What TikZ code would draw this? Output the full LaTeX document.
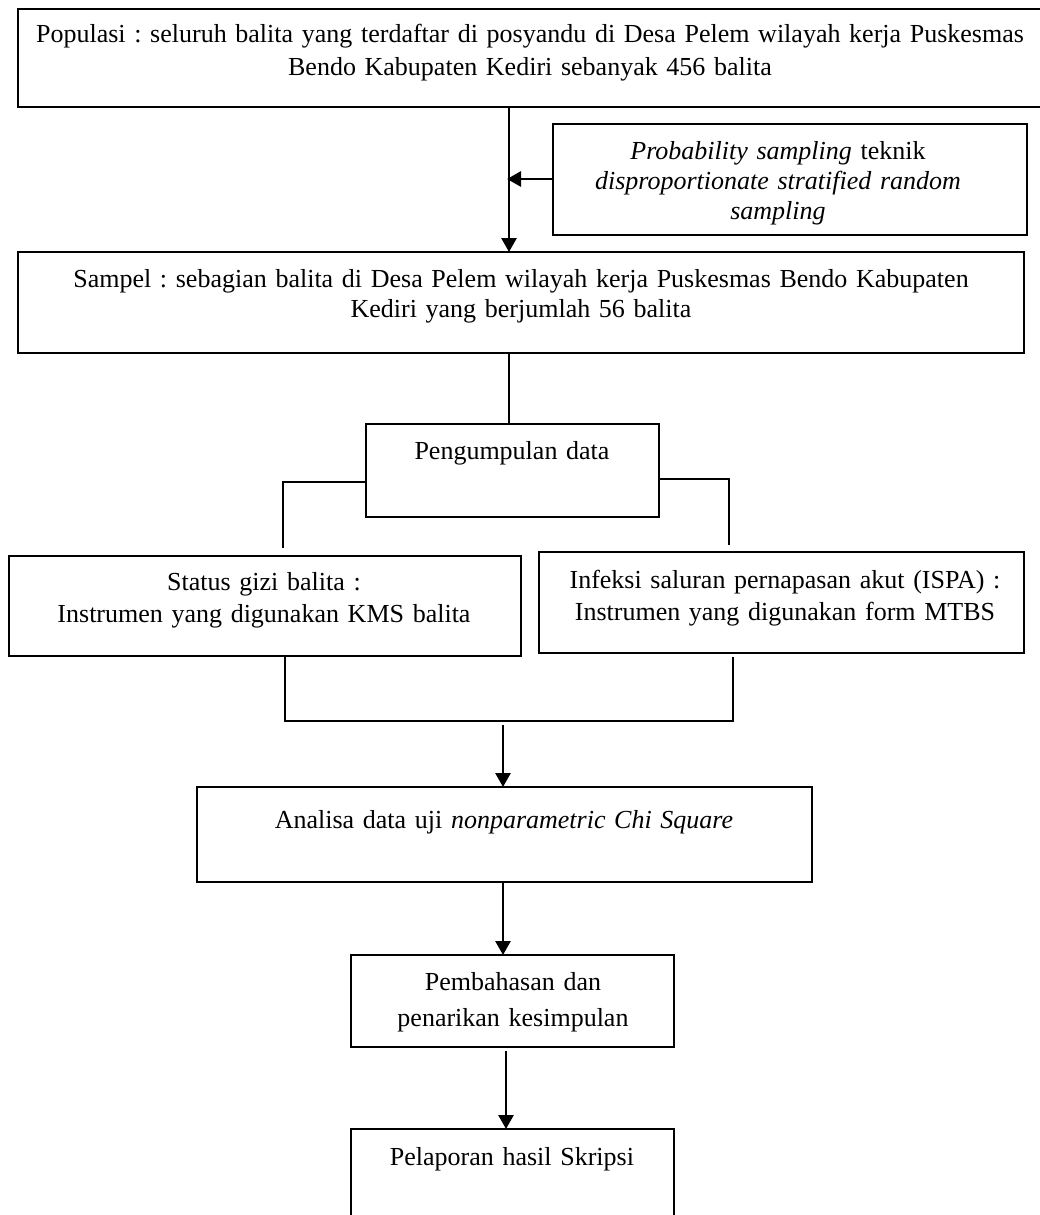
\documentclass[tikz,border=0pt]{standalone}
\usepackage{fontspec}
\setmainfont{Liberation Serif}
\usetikzlibrary{arrows.meta}
\frenchspacing
\begin{document}
\begin{tikzpicture}[x=1pt,y=-1pt,
  box/.style={draw, line width=2pt, inner sep=0pt, outer sep=0pt, anchor=north west},
  txt/.style={inner sep=0pt, outer sep=0pt, anchor=base, align=center, text width=1200pt, font=\frenchspacing\fontsize{26}{#1}\selectfont},
  txt/.default=33,
  conn/.style={line width=2pt},
  arr/.style={line width=2.8pt, -{Triangle[length=14pt,width=15pt]}}]
\useasboundingbox (0,0) rectangle (1040,1215);
\clip (0,0) rectangle (1040,1215);
% boxes
\node[box, minimum width=1030pt, minimum height=98pt] (b1) at (18,9) {};
\node[box, minimum width=474pt, minimum height=111pt] (prob) at (553,124) {};
\node[box, minimum width=1006pt, minimum height=101pt] (samp) at (18,252) {};
\node[box, minimum width=293pt, minimum height=93pt] (peng) at (366,424) {};
\node[box, minimum width=512pt, minimum height=100pt] (stat) at (9,556) {};
\node[box, minimum width=485pt, minimum height=101pt] (inf) at (539,552) {};
\node[box, minimum width=615pt, minimum height=95pt] (ana) at (197,787) {};
\node[box, minimum width=323pt, minimum height=92pt] (pem) at (351,955) {};
\node[box, minimum width=323pt, minimum height=110pt] (pel) at (351,1129) {};
% texts
\node[txt=33] (t1) at (530,43) {Populasi : seluruh balita yang terdaftar di posyandu di Desa Pelem wilayah kerja Puskesmas\\Bendo Kabupaten Kediri sebanyak 456 balita};
\node[txt=30] (tprob) at (778,159) {\textit{Probability sampling} teknik\\\textit{disproportionate stratified random}\\\textit{sampling}};
\node[txt=30] (tsamp) at (521,287) {Sampel : sebagian balita di Desa Pelem wilayah kerja Puskesmas Bendo Kabupaten\\Kediri yang berjumlah 56 balita};
\node[txt=33] (tpeng) at (512,459) {Pengumpulan data};
\node[txt=32] (tstat) at (264,590) {Status gizi balita :\\Instrumen yang digunakan KMS balita};
\node[txt=32] (tinf) at (785,588) {Infeksi saluran pernapasan akut (ISPA) :\\Instrumen yang digunakan form MTBS};
\node[txt=33] (tana) at (504,828) {Analisa data uji \textit{nonparametric Chi Square}};
\node[txt=36] (tpem) at (513,990) {Pembahasan dan\\penarikan kesimpulan};
\node[txt=33] (tpel) at (512,1165) {Pelaporan hasil Skripsi};
% helper coordinates
\coordinate (xa) at (509,0);
\coordinate (xm) at (503,0);
\coordinate (xn) at (506,0);
\coordinate (pj) at (507,179);
\coordinate (lend) at (283,548);
\coordinate (rend) at (729,545);
\coordinate (ll) at (285,657);
\coordinate (lb) at (285,721);
\coordinate (rb) at (733,721);
\coordinate (rr) at (733,657);
\coordinate (mstart) at (503,725);
\coordinate (pstart) at (506,1051);
% connectors
\draw[arr] (b1.south -| xa) -- (samp.north -| xa);
\draw[arr] (prob.west |- pj) -- (pj);
\draw[conn] (samp.south -| xa) -- (peng.north -| xa);
\draw[conn] (peng.west |- 0,482) -- (283,482) -- (lend);
\draw[conn] (peng.east |- 0,479) -- (729,479) -- (rend);
\draw[conn] (ll) -- (lb) -- (rb) -- (rr);
\draw[arr] (mstart) -- (ana.north -| xm);
\draw[arr] (ana.south -| xm) -- (pem.north -| xm);
\draw[arr] (pstart) -- (pel.north -| xn);
\end{tikzpicture}
\end{document}
